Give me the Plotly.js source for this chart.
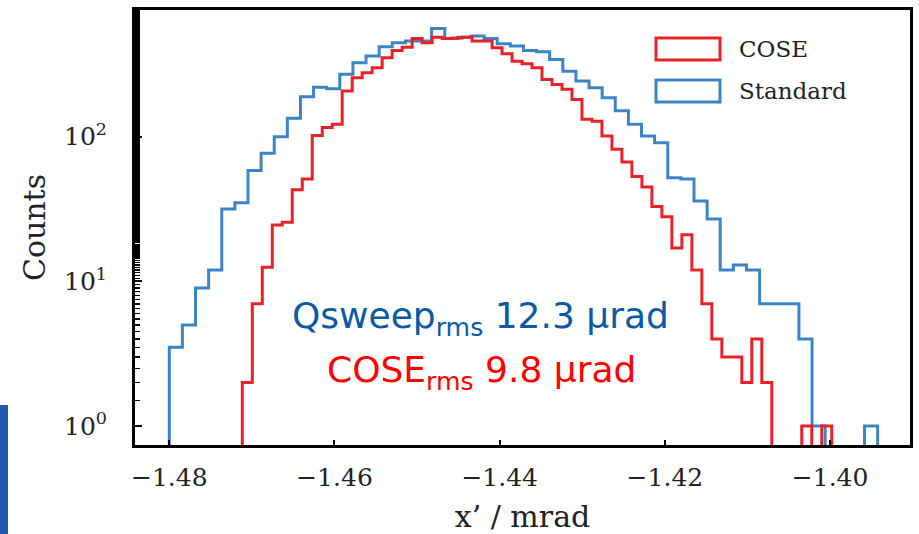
<!DOCTYPE html>
<html>
<head>
<meta charset="utf-8">
<script src="https://cdn.plot.ly/plotly-3.0.1.min.js"></script>
<style>html,body{margin:0;padding:0;background:#fff;}#chart{width:919px;height:534px;}</style>
</head>
<body>
<div id="chart"></div>
<script>
// ---- Data ----
const seriesNames = ["COSE", "Standard"];
// COSE (red) histogram: first bin edge, bin width (mrad), counts per bin
const coseStart = -1.47116;
const coseBinWidth = 0.0012094;
const coseCounts = [2, 7, 12.5, 24.5, 25.6, 43, 51, 102, 116, 122,
  207, 256, 277, 300, 352, 395, 416, 478, 446, 488,
  478, 482, 488, 458, 458, 412, 375, 333, 320, 300,
  249, 230, 213, 181, 132, 128, 101, 82, 67, 53,
  45, 33, 28, 17, 21, 12, 7, 4, 3, 3,
  2, 4, 2, 0, 0, 0, 1, 0, 1];
// Standard (blue) histogram
const stdStart = -1.4800;
const stdBinWidth = 0.001588;
const stdCounts = [3.5, 5, 9, 12, 31.6, 35, 58.5, 77, 100, 134,
  189, 220, 215, 270, 325, 361, 419, 446, 458, 458,
  560, 478, 488, 496, 478, 439, 423, 395, 387, 342,
  284, 243, 218, 186, 151, 122, 101, 91, 52, 51,
  36, 27, 12, 13, 12, 7, 7, 7, 4, 1,
  0, 0, 0, 1];
const xTickVals = [-1.48, -1.46, -1.44, -1.42, -1.40];
const xTickText = ["\u22121.48", "\u22121.46", "\u22121.44", "\u22121.42", "\u22121.40"];
const yTickVals = [1, 10, 100];
const yTickText = ["10<sup>0</sup>", "10<sup>1</sup>", "10<sup>2</sup>"];
const rmsLabels = ["Qsweep<sub>rms</sub> 12.3 \u03bcrad", "COSE<sub>rms</sub> 9.8 \u03bcrad"];

const redColor = "#ea2128";
const blueColor = "#3d84c6";

// build step outline from bin edges and counts
function stepTrace(start, width, counts, color, name) {
  const FLOOR = 1e-3; // below visible range => outline drops to the axis
  const xs = [start], ys = [FLOOR];
  counts.forEach((c, i) => {
    xs.push(start + i * width);
    ys.push(c > 0 ? c : FLOOR);
  });
  const end = start + counts.length * width;
  xs.push(end); ys.push(counts[counts.length - 1] > 0 ? counts[counts.length - 1] : FLOOR);
  xs.push(end); ys.push(FLOOR);
  return {
    type: "scatter", mode: "lines", x: xs, y: ys, name: name,
    line: {shape: "hv", color: color, width: 3},
    showlegend: false, hoverinfo: "skip"
  };
}

const traces = [
  stepTrace(stdStart, stdBinWidth, stdCounts, blueColor, seriesNames[1]),
  stepTrace(coseStart, coseBinWidth, coseCounts, redColor, seriesNames[0])
];

// layout helpers (pixel -> paper), plot area: x 135..910, y 10..445
const L = 135, R = 910, T = 10, B = 445;
const px = v => (v - L) / (R - L);
const py = v => (B - v) / (B - T);

const serif = "DejaVu Serif, Liberation Serif, serif";
const sans = "DejaVu Sans, Verdana, sans-serif";

const layout = {
  width: 919, height: 534,
  margin: {l: L, r: 919 - R, t: T, b: 534 - B},
  paper_bgcolor: "#fff", plot_bgcolor: "#fff",
  showlegend: false,
  xaxis: {
    range: [-1.48415, -1.39033],
    tickvals: xTickVals, ticktext: xTickText,
    ticks: "inside", ticklen: 5, tickwidth: 2, tickcolor: "#000",
    showline: true, linecolor: "#000", linewidth: 3, mirror: true,
    showgrid: false, zeroline: false,
    tickfont: {family: serif, size: 25, color: "#222"},
    ticklabelstandoff: 8,
    title: {text: "x\u2019 / mrad", font: {family: serif, size: 30, color: "#222"}, standoff: 18}
  },
  yaxis: {
    type: "log",
    range: [-0.131, 2.876],
    tickvals: yTickVals, ticktext: yTickText,
    ticks: "inside", ticklen: 7, tickwidth: 2, tickcolor: "#000",
    minor: {ticks: "inside", ticklen: 5, tickwidth: 1.5, tickcolor: "#000", showgrid: false},
    showline: true, linecolor: "#000", linewidth: 3, mirror: true,
    showgrid: false, zeroline: false,
    tickfont: {family: serif, size: 25, color: "#222"},
    ticklabelstandoff: 20,
    title: {text: "Counts", font: {family: serif, size: 30, color: "#222"}, standoff: 10}
  },
  shapes: [
    {type: "rect", xref: "paper", yref: "paper", x0: px(656), x1: px(720), y0: py(60), y1: py(38),
     line: {color: redColor, width: 3}, fillcolor: "rgba(0,0,0,0)"},
    {type: "rect", xref: "paper", yref: "paper", x0: px(656), x1: px(720), y0: py(102), y1: py(80),
     line: {color: blueColor, width: 3}, fillcolor: "rgba(0,0,0,0)"},
    {type: "rect", xref: "paper", yref: "paper", x0: px(0), x1: px(8), y0: py(534), y1: py(405),
     line: {width: 0}, fillcolor: "#1d58b3"}
  ],
  annotations: [
    {xref: "paper", yref: "paper", x: px(737), y: py(49), xanchor: "left", yanchor: "middle",
     text: seriesNames[0], showarrow: false, font: {family: serif, size: 23, color: "#222"}},
    {xref: "paper", yref: "paper", x: px(737), y: py(91), xanchor: "left", yanchor: "middle",
     text: seriesNames[1], showarrow: false, font: {family: serif, size: 23, color: "#222"}},
    {xref: "paper", yref: "paper", x: px(480), y: py(318), xanchor: "center", yanchor: "middle",
     text: rmsLabels[0], showarrow: false, font: {family: sans, size: 36, color: "#0c5aa6"}},
    {xref: "paper", yref: "paper", x: px(481), y: py(372), xanchor: "center", yanchor: "middle",
     text: rmsLabels[1], showarrow: false, font: {family: sans, size: 36, color: "#ff0000"}}
  ]
};

Plotly.newPlot("chart", traces, layout, {staticPlot: true, displayModeBar: false});
</script>
</body>
</html>
